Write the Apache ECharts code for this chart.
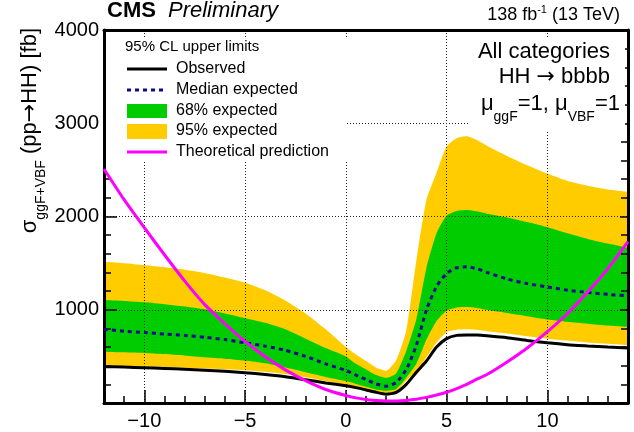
<!DOCTYPE html>
<html><head><meta charset="utf-8">
<script src="https://cdn.jsdelivr.net/npm/echarts@6/dist/echarts.min.js"></script>
<style>html,body{margin:0;padding:0;background:#fff}#c{width:634px;height:432px}</style>
</head><body><div id="c"></div>
<script>
// ---- data ----
const xs       = [-12,-11,-10,-9,-8,-7,-6,-5,-4,-3,-2,-1,0,0.5,1,1.5,2,2.5,3,3.5,4,4.5,5,5.5,6,6.5,7,8,9,10,11,12,13,14];
const observed = [390,385,378,370,362,352,340,325,305,282,250,215,185,165,140,115,95,115,200,330,450,600,690,725,730,728,720,700,670,645,625,612,600,590];
const median   = [790,770,755,740,725,705,680,645,610,565,500,420,350,300,250,205,180,220,360,620,1000,1250,1390,1450,1460,1440,1400,1330,1280,1245,1210,1185,1165,1150];
const hi68     = [1105,1095,1080,1060,1035,1005,960,910,860,790,690,590,500,420,360,300,270,320,560,900,1450,1820,2010,2060,2070,2055,2030,1990,1940,1885,1820,1760,1710,1665];
const lo68     = [550,543,536,525,510,490,475,455,425,380,330,280,235,205,175,145,130,150,270,420,680,880,990,1025,1030,1020,1000,965,930,895,870,850,830,815];
const hi95     = [1515,1500,1480,1455,1430,1395,1345,1290,1210,1100,960,790,600,520,450,380,345,460,780,1530,2180,2470,2750,2840,2860,2820,2760,2650,2550,2460,2380,2330,2290,2265];
const lo95     = [405,400,393,386,378,370,362,352,335,310,275,235,195,170,145,120,105,120,240,340,490,650,760,785,790,785,770,745,715,690,670,650,635,620];
const theory   = [2510,2180,1880,1590,1310,1055,850,660,495,355,240,145,80,55,38,26,21,22,28,40,60,85,115,155,200,255,305,440,590,765,960,1190,1440,1730];
const xTickLabels = [-10,-5,0,5,10];
const yTickLabels = [0,1000,2000,3000,4000];
const legendHeader = '95% CL upper limits';
const legendNames = ['Observed','Median expected','68% expected','95% expected','Theoretical prediction'];

// ---- styling ----
const FONT = '"Liberation Sans", Arial, Helvetica, sans-serif';
const ARROWFONT = '"DejaVu Sans", sans-serif';
const YELLOW = '#ffcc00', GREEN = '#00cc00', NAVY = '#0a0a8f', MAGENTA = '#ff00ff';
const G = {left:104, right:6, top:30, bottom:29};
const pair = arr => xs.map((x,i)=>[x, arr[i]]);
const SM = 0.2;
const gridDot = {show:true, lineStyle:{color:'#222', width:1, type:[1,2]}};

// filled layers: each fills from its curve down to the axis; drawn in order
function layer(name, arr, color){
  return { type:'line', name:name, xAxisIndex:0, yAxisIndex:0, data:pair(arr), smooth:SM,
    symbol:'none', lineStyle:{width:0, opacity:0}, areaStyle:{color:color, opacity:1, origin:'start'},
    silent:true, z:1 };
}

const chart = echarts.init(document.getElementById('c'), null, {renderer:'canvas'});
const option = {
  animation:false,
  backgroundColor:'#fff',
  grid:[Object.assign({}, G), Object.assign({}, G)],
  xAxis:[
    { gridIndex:0, type:'value', position:'bottom', min:-12, max:14, interval:1, z:3,
      axisLine:{show:true, onZero:false, lineStyle:{color:'#000', width:3}},
      axisTick:{show:true, inside:true, length:7, lineStyle:{color:'#000', width:1.5}},
      axisLabel:{show:true, color:'#000', fontSize:20, fontFamily:FONT, margin:8,
        formatter:v => xTickLabels.indexOf(v) >= 0 ? String(v).replace('-','\u2212') : ''},
      splitLine:{show:false} },
    { gridIndex:0, type:'value', position:'top', min:-12, max:14, z:3,
      axisLine:{show:true, onZero:false, lineStyle:{color:'#000', width:3}},
      axisTick:{show:false}, axisLabel:{show:false}, splitLine:{show:false} },
    { gridIndex:1, type:'value', position:'bottom', min:-12, max:14, splitNumber:5, z:3,
      axisLine:{show:false, onZero:false},
      axisTick:{show:true, inside:true, length:13, lineStyle:{color:'#000', width:1.5}},
      axisLabel:{show:false}, splitLine:gridDot }
  ],
  yAxis:[
    { gridIndex:0, type:'value', position:'left', min:0, max:4000, interval:1000, z:3,
      axisLine:{show:true, onZero:false, lineStyle:{color:'#000', width:3}},
      axisTick:{show:true, inside:true, length:13, lineStyle:{color:'#000', width:1.5}},
      minorTick:{show:true, splitNumber:5, length:7, lineStyle:{color:'#000', width:1.5}},
      axisLabel:{show:true, color:'#000', fontSize:20, fontFamily:FONT, margin:5,
        formatter:v => yTickLabels.indexOf(v) >= 0 && v > 0 ? String(v) : ''},
      splitLine:gridDot },
    { gridIndex:0, type:'value', position:'right', min:0, max:4000, interval:1000, z:3,
      axisLine:{show:true, onZero:false, lineStyle:{color:'#000', width:3}},
      axisTick:{show:true, inside:true, length:8, lineStyle:{color:'#000', width:1.5}},
      minorTick:{show:true, splitNumber:5, length:7, lineStyle:{color:'#000', width:1.5}},
      axisLabel:{show:false}, splitLine:{show:false} },
    { gridIndex:1, type:'value', min:0, max:4000, show:false }
  ],
  series:[
    layer(legendNames[3], hi95, YELLOW),
    layer(legendNames[2], hi68, GREEN),
    layer('lo68', lo68, YELLOW),
    layer('lo95', lo95, '#ffffff'),
    { type:'line', name:legendNames[0], xAxisIndex:0, yAxisIndex:0, data:pair(observed), smooth:SM,
      symbol:'none', lineStyle:{color:'#000', width:3}, z:5 },
    { type:'line', name:legendNames[1], xAxisIndex:0, yAxisIndex:0, data:pair(median), smooth:SM,
      symbol:'none', lineStyle:{color:NAVY, width:3, type:[4,4]}, z:5 },
    { type:'line', name:legendNames[4], xAxisIndex:0, yAxisIndex:0, data:pair(theory), smooth:SM,
      symbol:'none', lineStyle:{color:MAGENTA, width:3}, z:5 }
  ],
  graphic:[
    // legend box
    { type:'rect', z:100, shape:{x:106, y:37, width:241, height:125}, style:{fill:'#fff'} },
    { type:'text', z:101, x:125, y:47, style:{text:legendHeader, font:'15px '+FONT, fill:'#000', verticalAlign:'middle'} },
    { type:'line', z:101, shape:{x1:127, y1:69, x2:167, y2:69}, style:{stroke:'#000', lineWidth:3} },
    { type:'line', z:101, shape:{x1:127, y1:90, x2:167, y2:90}, style:{stroke:NAVY, lineWidth:3, lineDash:[4,4]} },
    { type:'rect', z:101, shape:{x:127, y:104, width:40, height:14}, style:{fill:GREEN} },
    { type:'rect', z:101, shape:{x:127, y:124, width:40, height:15}, style:{fill:YELLOW} },
    { type:'line', z:101, shape:{x1:127, y1:152, x2:167, y2:152}, style:{stroke:MAGENTA, lineWidth:3} },
    { type:'text', z:101, x:176, y:69, style:{text:legendNames[0], font:'16px '+FONT, fill:'#000', verticalAlign:'middle'} },
    { type:'text', z:101, x:176, y:90, style:{text:legendNames[1], font:'16px '+FONT, fill:'#000', verticalAlign:'middle'} },
    { type:'text', z:101, x:176, y:111, style:{text:legendNames[2], font:'16px '+FONT, fill:'#000', verticalAlign:'middle'} },
    { type:'text', z:101, x:176, y:131, style:{text:legendNames[3], font:'16px '+FONT, fill:'#000', verticalAlign:'middle'} },
    { type:'text', z:101, x:176, y:152, style:{text:legendNames[4], font:'16px '+FONT, fill:'#000', verticalAlign:'middle'} },
    // right text box
    { type:'rect', z:100, shape:{x:447, y:37, width:178, height:38}, style:{fill:'#fff'} },
    { type:'rect', z:100, shape:{x:470, y:75, width:155, height:56}, style:{fill:'#fff'} },
    { type:'text', z:101, x:610, y:52, style:{text:'All categories', font:'22px '+FONT, fill:'#000', align:'right', verticalAlign:'middle'} },
    { type:'text', z:101, x:610, y:77, style:{
        text:'{n|HH }{a|\u2192}{n| bbbb}', align:'right', verticalAlign:'middle',
        rich:{ n:{fontSize:22, fontFamily:FONT, color:'#000', lineHeight:26, verticalAlign:'middle'},
               a:{fontSize:22, fontFamily:ARROWFONT, color:'#000', lineHeight:26, verticalAlign:'middle'} } } },
    { type:'text', z:101, x:620, y:104, style:{
        text:'{n|\u03bc}{s|ggF}{n|=1, \u03bc}{s|VBF}{n|=1}', align:'right', verticalAlign:'middle',
        rich:{ n:{fontSize:22, fontFamily:FONT, color:'#000', lineHeight:40, verticalAlign:'middle'},
               s:{fontSize:14, fontFamily:FONT, color:'#000', lineHeight:14, verticalAlign:'bottom'} } } },
    // header
    { type:'text', z:101, x:107, y:11, style:{text:'CMS', font:'bold 22px '+FONT, fill:'#000', verticalAlign:'middle'} },
    { type:'text', z:101, x:168, y:11, style:{text:'Preliminary', font:'italic 22px '+FONT, fill:'#000', verticalAlign:'middle'} },
    { type:'text', z:101, x:620, y:15, style:{
        text:'{n|138 fb}{p|-1}{n| (13 TeV)}', align:'right', verticalAlign:'middle',
        rich:{ n:{fontSize:18, fontFamily:FONT, color:'#000', lineHeight:22, verticalAlign:'middle'},
               p:{fontSize:11, fontFamily:FONT, color:'#000', lineHeight:11, verticalAlign:'top'} } } },
    // y-axis title
    { type:'text', z:101, x:30, y:28, rotation:Math.PI/2, style:{
        text:'{n|\u03c3}{s|ggF+VBF}{n| (pp}{a|\u2192}{n|HH) [fb]}', align:'right', verticalAlign:'middle',
        rich:{ n:{fontSize:22, fontFamily:FONT, color:'#000', lineHeight:36, verticalAlign:'middle'},
               a:{fontSize:22, fontFamily:ARROWFONT, color:'#000', lineHeight:36, verticalAlign:'middle'},
               s:{fontSize:14, fontFamily:FONT, color:'#000', lineHeight:14, verticalAlign:'bottom'} } } }
  ]
};
chart.setOption(option);
</script>
</body></html>
